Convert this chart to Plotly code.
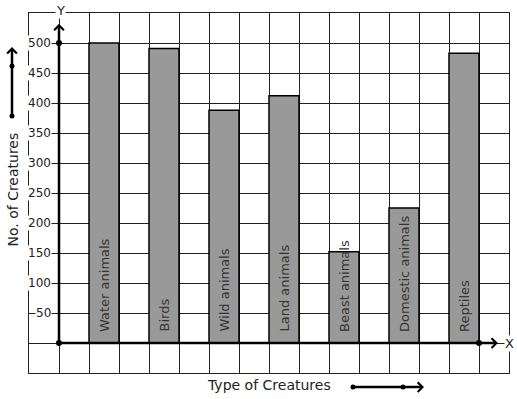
import plotly.graph_objects as go

categories = ["Water animals", "Birds", "Wild animals", "Land animals",
              "Beast animals", "Domestic animals", "Reptiles"]
values = [500, 491, 388, 412, 152, 225, 483]
y_ticks = [50, 100, 150, 200, 250, 300, 350, 400, 450, 500]
y_tick_labels = [str(v) for v in y_ticks]

x_pos = [1.5 + 2 * i for i in range(len(categories))]

W, H = 517, 399
L, R, T, B = 29, 8, 13, 26
PW, PH = W - L - R, H - T - B


def px(xp):
    return (xp - L) / PW


def py(yp):
    return (H - B - yp) / PH


FONT = "DejaVu Sans"
TXT = "#222222"

fig = go.Figure()
fig.add_trace(go.Bar(
    x=x_pos, y=values, width=1,
    marker=dict(color="#999999", line=dict(color="black", width=1.5)),
    hoverinfo="skip", showlegend=False,
))

# origin / axis dots
fig.add_trace(go.Scatter(
    x=[0, 0, 14], y=[0, 500, 0], mode="markers",
    marker=dict(color="black", size=6), cliponaxis=False,
    showlegend=False, hoverinfo="skip",
))

ann = []
# bar labels
for xc, cat in zip(x_pos, categories):
    ann.append(dict(x=xc, y=0, xref="x", yref="y", text=cat, showarrow=False,
                    textangle=-90, xanchor="center", yanchor="bottom", yshift=10,
                    font=dict(family=FONT, size=13, color="#333333"),
                    borderpad=0))
# y tick labels
for v, lab in zip(y_ticks, y_tick_labels):
    ann.append(dict(x=0, y=v, xref="x", yref="y", text=lab, showarrow=False,
                    xanchor="right", yanchor="middle", xshift=-7,
                    font=dict(family=FONT, size=12, color=TXT),
                    bgcolor="white", borderpad=0))
# axis arrows
arrow_style = dict(text="", showarrow=True, arrowhead=4, arrowwidth=2.5,
                   arrowsize=0.75, arrowcolor="black", standoff=0, startstandoff=0)
ann.append(dict(x=0, y=532, ax=0, ay=0, xref="x", yref="y", axref="x", ayref="y",
                **arrow_style))
ann.append(dict(x=14.63, y=0, ax=0, ay=0, xref="x", yref="y", axref="x", ayref="y",
                **arrow_style))
# side arrow (left)
ann.append(dict(x=px(12), y=py(47), xref="paper", yref="paper", ax=0, ay=69,
                **arrow_style))
# bottom arrow
ann.append(dict(x=px(424), y=py(387), xref="paper", yref="paper", ax=-71, ay=0,
                **arrow_style))
# axis letters
ann.append(dict(x=px(60.5), y=py(10), xref="paper", yref="paper", text="Y",
                xanchor="center", yanchor="middle",
                showarrow=False, font=dict(family=FONT, size=13, color=TXT),
                bgcolor="white", borderpad=0))
ann.append(dict(x=px(509), y=py(343), xref="paper", yref="paper", text="X",
                xanchor="center", yanchor="middle",
                showarrow=False, font=dict(family=FONT, size=13, color=TXT),
                bgcolor="white", borderpad=0))
# titles
ann.append(dict(x=px(269), y=py(385), xref="paper", yref="paper",
                xanchor="center", yanchor="middle",
                text="Type of Creatures", showarrow=False,
                font=dict(family=FONT, size=14, color=TXT)))
ann.append(dict(x=px(12.5), y=py(190), xref="paper", yref="paper",
                xanchor="center", yanchor="middle",
                text="No. of Creatures", showarrow=False, textangle=-90,
                font=dict(family=FONT, size=14, color=TXT)))

shapes = []
for xp_, yp_ in [(12, 66), (12, 116), (353, 387), (403, 387)]:
    shapes.append(dict(type="circle", xref="paper", yref="paper",
                       xsizemode="pixel", ysizemode="pixel",
                       xanchor=px(xp_), yanchor=py(yp_),
                       x0=-2.5, x1=2.5, y0=-2.5, y1=2.5,
                       fillcolor="black", line=dict(color="black", width=0)))

fig.update_layout(
    width=W, height=H,
    margin=dict(l=L, r=R, t=T, b=B, pad=0),
    paper_bgcolor="white", plot_bgcolor="white",
    annotations=ann, shapes=shapes,
    xaxis=dict(range=[-1, 15], tick0=0, dtick=1, showgrid=True,
               gridcolor="#222222", gridwidth=1, showticklabels=False,
               zeroline=False, showline=True, linecolor="#222222", linewidth=1,
               mirror=True, ticks="", fixedrange=True),
    yaxis=dict(range=[-50, 550], tick0=0, dtick=50, showgrid=True,
               gridcolor="#222222", gridwidth=1, showticklabels=False,
               zeroline=False, showline=True, linecolor="#222222", linewidth=1,
               mirror=True, ticks="", fixedrange=True),
    bargap=0,
)

fig.write_html("out.html", config={"staticPlot": True},
               post_script="document.body.style.margin='0';document.body.style.overflow='hidden';")
